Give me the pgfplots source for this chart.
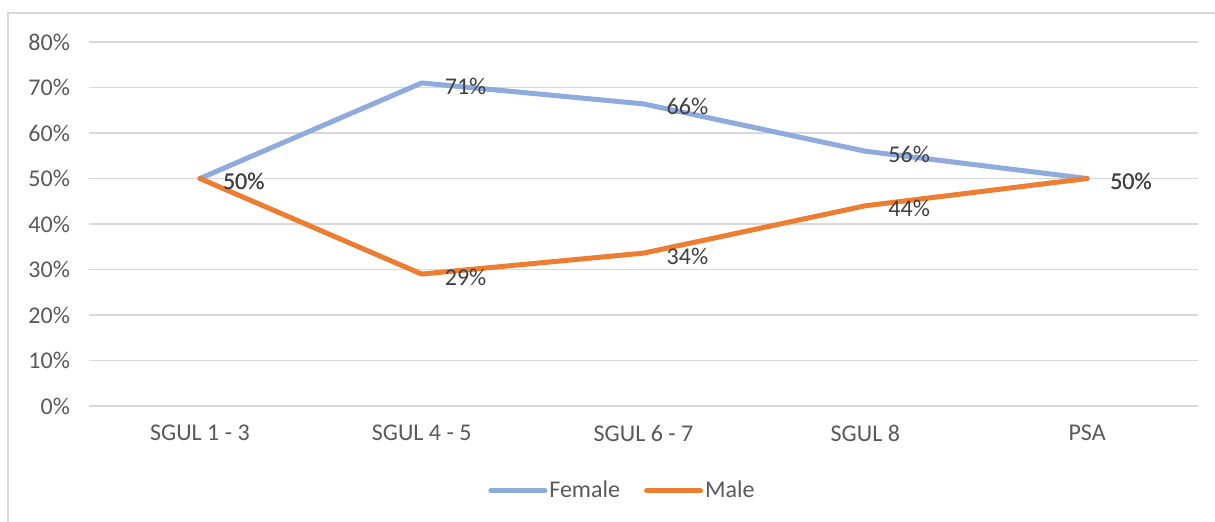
\documentclass[border=0pt]{standalone}
\usepackage{fontspec}
\setmainfont{Carlito}
\usepackage{pgfplots}
\pgfplotsset{compat=1.18}
\definecolor{fem}{HTML}{8FAADC}
\definecolor{mal}{HTML}{ED7D31}
\definecolor{tickc}{HTML}{595959}
\definecolor{lblc}{HTML}{404040}
\definecolor{gridc}{HTML}{D9D9D9}
\begin{document}
\begin{tikzpicture}
\useasboundingbox (0,0) rectangle (607.5pt,260.5pt);
\draw[gridc, line width=0.6pt] (4pt,-20pt) rectangle (640pt,254pt);
\begin{axis}[
  at={(44.5pt,57.5pt)}, anchor=south west,
  width=554.5pt, height=182pt, scale only axis,
  xmin=-0.5, xmax=4.5, ymin=0, ymax=80,
  xtick={0,1,2,3,4},
  xticklabels={SGUL 1 - 3, SGUL 4 - 5, SGUL 6 - 7, SGUL 8, PSA},
  ytick={0,10,...,80},
  yticklabel={\pgfmathprintnumber{\tick}\%},
  /pgf/number format/assume math mode=true,
  axis line style={draw=none},
  major tick length=0pt,
  xmajorgrids=false,
  ymajorgrids=true, major grid style={gridc, line width=0.8pt},
  ticklabel style={font=\fontsize{12}{14}\selectfont, text=tickc},
  yticklabel style={xshift=-6pt},
  xticklabel style={yshift=-6pt},
  legend style={at={(0.481,-0.2335)}, anchor=center, draw=none, fill=none,
    font=\fontsize{12}{14}\selectfont, text=tickc,
    legend columns=2,
    /tikz/every even column/.append style={column sep=11pt},
    nodes={inner sep=1pt}},
  legend image code/.code={\draw[#1, line width=2.5pt, line cap=round] (0,0) -- (27pt,0);},
  nodes near coords={\pgfmathprintnumber[fixed,precision=0]{\pgfplotspointmeta}\%},
  point meta=y,
  every node near coord/.append style={anchor=west, xshift=7pt, yshift=-1.5pt,
    font=\fontsize{12}{14}\selectfont, text=lblc},
  clip=false,
]
\addplot[fem, line width=2.5pt, line join=round, line cap=round, mark=none]
  coordinates {(0,50) (1,71) (2,66.4) (3,56) (4,50)};
\addlegendentry{Female}
\addplot[mal, line width=2.5pt, line join=round, line cap=round, mark=none]
  coordinates {(0,50) (1,29) (2,33.6) (3,44) (4,50)};
\addlegendentry{Male}
\end{axis}
\end{tikzpicture}
\end{document}
